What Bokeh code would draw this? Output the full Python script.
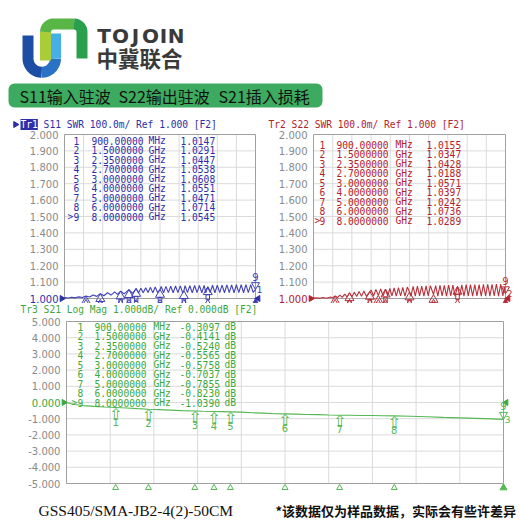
import numpy as np
from bokeh.plotting import figure
from bokeh.models import Range1d, Label, LabelSet, ColumnDataSource, BoxAnnotation
from bokeh.layouts import column, row
from bokeh.embed import file_html
from bokeh.resources import INLINE
from bokeh.core.properties import value

# ---------------- data ----------------
marker_ids = ["1", "2", "3", "4", "5", "6", "7", "8", "9"]
marker_freq_ghz = [0.9, 1.5, 2.35, 2.7, 3.0, 4.0, 5.0, 6.0, 8.0]
s11_marker_swr = [1.0147, 1.0291, 1.0447, 1.0538, 1.0608, 1.0551, 1.0471, 1.0714, 1.0545]
s22_marker_swr = [1.0155, 1.0347, 1.0428, 1.0188, 1.0571, 1.0397, 1.0242, 1.0736, 1.0289]
s21_marker_db = [-0.3097, -0.4141, -0.5240, -0.5565, -0.5758, -0.7037, -0.7855, -0.8230, -1.0390]

swr_ticks = [1.0, 1.1, 1.2, 1.3, 1.4, 1.5, 1.6, 1.7, 1.8, 1.9, 2.0]
db_ticks = [-5, -4, -3, -2, -1, 0, 1, 2, 3, 4, 5]
freq_divisions_ghz = [0.8, 1.6, 2.4, 3.2, 4.0, 4.8, 5.6, 6.4, 7.2]
freq_span_ghz = [0.0, 8.0]

s11_trace_freq = [0.01, 0.15, 0.3, 0.45, 0.6, 0.75, 0.9, 1.05, 1.2, 1.35, 1.5,
                  1.65, 1.8, 1.95, 2.1, 2.22, 2.35, 2.5, 2.7, 2.85,
                  3.0, 3.1, 3.2, 3.3, 3.4, 3.5, 3.6, 3.7, 3.8, 3.9,
                  4.0,
                  4.05, 4.15, 4.25, 4.35, 4.45, 4.55, 4.65, 4.75, 4.85, 4.95,
                  5.0,
                  5.05, 5.15, 5.25, 5.35, 5.45, 5.55, 5.65, 5.75, 5.85,
                  5.92,
                  6.0, 6.1, 6.2, 6.3, 6.4, 6.5, 6.6, 6.7, 6.8, 6.9, 7.0,
                  7.1, 7.2, 7.3, 7.4, 7.5, 7.6, 7.7, 7.8, 7.9, 8.0]
s11_trace_swr = [1.006, 1.003, 1.008, 1.004, 1.010, 1.006, 1.0147, 1.009, 1.021, 1.013, 1.0291,
                 1.017, 1.035, 1.021, 1.040, 1.025, 1.0447, 1.028, 1.0538, 1.031,
                 1.0608, 1.034, 1.063, 1.035, 1.066, 1.036, 1.068, 1.035, 1.070, 1.036,
                 1.0551,
                 1.073, 1.035, 1.074, 1.036, 1.075, 1.035, 1.076, 1.036, 1.077, 1.035,
                 1.0471,
                 1.078, 1.036, 1.078, 1.035, 1.079, 1.036, 1.080, 1.035, 1.080,
                 1.034,
                 1.0714, 1.036, 1.081, 1.035, 1.082, 1.036, 1.082, 1.035, 1.083, 1.036, 1.083,
                 1.035, 1.084, 1.036, 1.084, 1.035, 1.085, 1.036, 1.085, 1.037, 1.0545]

s22_trace_freq = [0.01, 0.25, 0.4, 0.55, 0.7, 0.8, 0.9, 1.0, 1.1, 1.2, 1.3, 1.4, 1.5,
                  1.6, 1.7, 1.8, 1.9, 2.0, 2.1, 2.2, 2.35, 2.4, 2.5, 2.6, 2.7, 2.8, 2.9,
                  3.0, 3.09, 3.18, 3.27, 3.36, 3.45, 3.54, 3.63, 3.72, 3.81, 3.91, 4.0,
                  4.06, 4.15, 4.24, 4.33, 4.42, 4.51, 4.6, 4.69, 4.78, 4.87, 5.0,
                  5.09, 5.18, 5.27, 5.36, 5.45, 5.54, 5.63, 5.72, 5.81, 5.9, 6.0,
                  6.09, 6.18, 6.27, 6.36, 6.45, 6.54, 6.63, 6.72, 6.81, 6.9, 6.99,
                  7.08, 7.17, 7.26, 7.35, 7.44, 7.53, 7.62, 7.71, 7.8, 7.89, 7.95, 8.0]
s22_trace_swr = [1.004, 1.002, 1.006, 1.002, 1.009, 1.004, 1.0155, 1.006, 1.021, 1.007, 1.027, 1.009, 1.0347,
                 1.011, 1.038, 1.012, 1.042, 1.013, 1.046, 1.013, 1.0428, 1.052, 1.015, 1.055, 1.0188, 1.058, 1.015,
                 1.0571, 1.015, 1.061, 1.016, 1.064, 1.015, 1.066, 1.016, 1.068, 1.015, 1.070, 1.0397,
                 1.014, 1.074, 1.015, 1.075, 1.016, 1.076, 1.015, 1.077, 1.016, 1.078, 1.0242,
                 1.079, 1.015, 1.080, 1.016, 1.080, 1.015, 1.081, 1.016, 1.082, 1.015, 1.0736,
                 1.016, 1.083, 1.015, 1.084, 1.016, 1.084, 1.015, 1.085, 1.016, 1.085, 1.015,
                 1.086, 1.016, 1.087, 1.015, 1.087, 1.016, 1.088, 1.015, 1.088, 1.016, 1.070, 1.0289]

s21_trace_freq = [0.01, 0.15, 0.3, 0.5, 0.7, 0.9, 1.1, 1.3, 1.5, 1.7, 1.9, 2.1, 2.35, 2.5, 2.7,
                  2.85, 3.0, 3.2, 3.4, 3.6, 3.8, 4.0, 4.2, 4.4, 4.6, 4.8, 5.0, 5.2, 5.4, 5.6,
                  5.8, 6.0, 6.3, 6.6, 6.9, 7.2, 7.5, 7.8, 8.0]
s21_trace_db = [-0.01, -0.12, -0.19, -0.24, -0.28, -0.3097, -0.34, -0.38, -0.4141, -0.44, -0.47,
                -0.50, -0.5240, -0.54, -0.5565, -0.565, -0.5758, -0.595, -0.635, -0.655, -0.69,
                -0.7037, -0.715, -0.745, -0.75, -0.775, -0.7855, -0.79, -0.805, -0.805, -0.82,
                -0.8230, -0.85, -0.88, -0.92, -0.95, -0.98, -1.01, -1.0390]

banner_items = ["S11输入驻波", "S22输出驻波", "S21插入损耗"]
brand_letters = ["T", "O", "J", "O", "I", "N"]
brand_cn = "中冀联合"
model_text = "GSS405/SMA-JB2-4(2)-50CM"
note_text = "*该数据仅为样品数据，实际会有些许差异"

# ---------------- styles ----------------
MONO = "DejaVu Sans Mono"
SANS = "DejaVu Sans"
GRAY = "#8a8a8a"
BLUE, BLUE_TR = "#2e2ea8", "#4040b8"
RED, RED_TR = "#b2222c", "#b8303a"
GREEN, GREEN_TR = "#3ba83b", "#55b855"
CH = 5.78  # monospace character pitch in px


def freq_text(f):
    if f < 1:
        return f"{f * 1000:.5f}", "MHz"
    return f"{f:.7f}", "GHz"


def make_panel(W, H, box, yspan):
    """Figure whose frame fills the canvas; the grid box sits at pixel rectangle `box`."""
    l, r, t, b = box
    x0, x1 = freq_span_ghz
    y0, y1 = yspan
    sx = (r - l) / (x1 - x0)
    sy = (b - t) / (y1 - y0)
    p = figure(width=W, height=H, title=None,
               x_range=Range1d(x0 - l / sx, x1 + (W - r) / sx),
               y_range=Range1d(y0 - (H - b) / sy, y1 + t / sy),
               x_axis_location=None, y_axis_location=None, toolbar_location=None,
               output_backend="svg", min_border=0)
    p.grid.visible = False
    p.outline_line_color = None
    p.background_fill_color = "white"
    p.border_fill_color = "white"
    return p, sx, sy


def decorate(p, sx, sy, y_lo, y_hi, ticks, ref, color, trace_color, tr_f, tr_v, mk_v,
             title_parts, title_dx, title_dy, tbl_x, tbl_row0, active_dx, unit2,
             trace_no, text_arrows):
    x0, x1 = freq_span_ghz
    # grid + box
    p.segment(x0=freq_divisions_ghz, y0=[y_lo] * len(freq_divisions_ghz),
              x1=freq_divisions_ghz, y1=[y_hi] * len(freq_divisions_ghz),
              line_color="#dadada", line_width=1)
    inner = ticks[1:-1]
    p.segment(x0=[x0] * len(inner), y0=inner, x1=[x1] * len(inner), y1=inner,
              line_color="#dadada", line_width=1)
    p.quad(left=[x0], right=[x1], bottom=[y_lo], top=[y_hi], fill_color=None,
           line_color="#a0a0a0", line_width=1)

    # y tick labels
    gray_ticks = [t for t in ticks if t != ref]
    lab = ColumnDataSource(dict(x=[x0] * len(gray_ticks), y=gray_ticks,
                                txt=[f"{t:.3f}" for t in gray_ticks]))
    p.add_layout(LabelSet(x="x", y="y", text="txt", source=lab, x_offset=-6,
                          text_font=value(SANS), text_font_size="10px", text_color=GRAY,
                          text_align="right", text_baseline="middle"))
    p.add_layout(Label(x=x0, y=ref, x_offset=-6, text=f"{ref:.3f}", text_align="right",
                       text_baseline="middle", text_font=SANS, text_font_size="10px",
                       text_color=color))
    # reference-level pointers (left and right edge)
    p.scatter([x0 - 2.6 / sx], [ref], marker="triangle", angle=-np.pi / 2, size=6,
              fill_color=color, line_color=color)
    p.scatter([x1 + 2.6 / sx], [ref], marker="triangle", angle=np.pi / 2, size=6,
              fill_color=color, line_color=color)
    # title
    dx = title_dx
    for txt, highlight in title_parts:
        kw = dict(background_fill_color=color, text_color="white") if highlight else dict(text_color=color)
        p.add_layout(Label(x=x0, y=y_hi, x_offset=dx, y_offset=title_dy, text=txt,
                           text_align="left", text_baseline="middle", text_font=MONO,
                           text_font_size="9.6px", **kw))
        dx += (len(txt) + 1) * CH
    if title_parts[0][1]:
        p.scatter([x0 + (title_dx - 5) / sx], [y_hi + title_dy / sy], marker="triangle",
                  angle=-np.pi / 2, size=6, fill_color=color, line_color=color)

    # trace
    p.line(tr_f, tr_v, line_color=trace_color, line_width=1.1)

    # marker table
    n = len(marker_ids)
    tbl = ColumnDataSource(dict(
        x=[x0] * n, y=[y_hi] * n, num=marker_ids,
        freq=[freq_text(f)[0] for f in marker_freq_ghz],
        unit=[freq_text(f)[1] for f in marker_freq_ghz],
        val=[f"{v:.4f}" for v in mk_v],
        unit2=[unit2] * n,
        dy=[-(tbl_row0 + 9.5 * i) for i in range(n)]))
    cols = ["num", "freq", "unit", "val", "unit2"] if unit2 else ["num", "freq", "unit", "val"]
    for col, cx in zip(cols, tbl_x):
        p.add_layout(LabelSet(x="x", y="y", text=col, source=tbl, x_offset=cx, y_offset="dy",
                              text_font=value(MONO), text_font_size="9.6px",
                              text_color=color, text_align="left", text_baseline="middle"))
    p.add_layout(Label(x=x0, y=y_hi, x_offset=active_dx, y_offset=-(tbl_row0 + 9.5 * 8), text=">",
                       text_align="left", text_baseline="middle", text_font=MONO,
                       text_font_size="9.6px", text_color=color))

    # markers on trace (1..8)
    mf, mv = marker_freq_ghz[:8], mk_v[:8]
    if text_arrows:
        mk = ColumnDataSource(dict(x=mf, y=mv, id=marker_ids[:8], arrow=["⇧"] * 8))
        p.add_layout(LabelSet(x="x", y="y", text="arrow", source=mk, y_offset=3,
                              text_font=value(SANS), text_font_size="16px", text_color=trace_color,
                              text_align="center", text_baseline="top"))
        p.add_layout(LabelSet(x="x", y="y", text="id", source=mk, y_offset=-10,
                              text_font=value(SANS), text_font_size="10px", text_color=trace_color,
                              text_align="center", text_baseline="top"))
    else:
        p.rect(mf, [v - 10.5 / sy for v in mv], width=3.5, height=5, width_units="screen",
               height_units="screen", fill_color="white", fill_alpha=0.0,
               line_color=trace_color, line_width=1)
        p.scatter(mf, [v - 5.2 / sy for v in mv], marker="triangle", size=9,
                  fill_color="white", fill_alpha=0.0, line_color=trace_color, line_width=1)
    # stimulus pointers under the box
    p.scatter(mf, [y_lo - 4.3 / sy] * 8, marker="triangle", size=6,
              fill_color="white", fill_alpha=0.0, line_color=trace_color, line_width=1)
    # active marker 9
    f9, v9 = marker_freq_ghz[8], mk_v[8]
    p.scatter([f9], [v9 + 4.6 / sy], marker="inverted_triangle", size=8,
              fill_color="white", fill_alpha=0.0, line_color=trace_color, line_width=1)
    p.add_layout(Label(x=f9, y=v9, y_offset=9, text=marker_ids[8], text_align="center",
                       text_baseline="bottom", text_font=SANS, text_font_size="10px",
                       text_color=trace_color))
    p.scatter([f9], [y_lo - 4.3 / sy], marker="triangle", size=7,
              fill_color=trace_color, line_color=trace_color)
    p.add_layout(Label(x=x1, y=tr_v[-1], x_offset=1, text=trace_no, text_align="left",
                       text_baseline="middle", text_font=SANS, text_font_size="9.5px",
                       text_color=trace_color))


# ---------------- header ----------------
hdr = figure(width=520, height=113, title=None, x_range=Range1d(0, 520), y_range=Range1d(113, 0),
             x_axis_location=None, y_axis_location=None, toolbar_location=None,
             output_backend="svg", min_border=0)
hdr.grid.visible = False
hdr.outline_line_color = None


def arc(cx, cy, r, a0, a1, k=16):
    t = np.linspace(a0, a1, k)
    return list(cx + r * np.cos(t)), list(cy + r * np.sin(t))


# logo (decorative shape)
ax1, ay1 = arc(41.25, 58, 13.75, np.pi, np.pi / 2)
ax2, ay2 = arc(41.25, 58, 13.75, np.pi / 2, 0)
gx1, gy1 = arc(53, 31.5, 8, np.pi, 1.5 * np.pi)
gx2, gy2 = arc(73.5, 31.5, 8, 1.5 * np.pi, 2 * np.pi)
logo_xs = [[27.5, 27.5] + ax1, ax2, [55, 55],
           [45, 45], gx1 + gx2[:1], gx2 + [81.5]]
logo_ys = [[35, 58] + ay1, ay2, [58, 33],
           [60, 31.5], gy1 + gy2[:1], gy2 + [58]]
logo_cols = ["#1d4ea5", "#2a72c4", "#45b0e8", "#a8cd36", "#58b646", "#2aa04c"]
hdr.multi_line(logo_xs, logo_ys, line_color=logo_cols, line_width=11,
               line_join="round", line_cap="butt")

for ch, cx in zip(brand_letters, [103.5, 120, 135, 150, 163, 175.5]):
    hdr.add_layout(Label(x=cx, y=35.5, text=ch, text_baseline="middle", text_align="center",
                         text_font=SANS, text_font_style="bold", text_font_size="20px",
                         text_color="#3a3a3a"))
hdr.add_layout(Label(x=96, y=56.5, text=brand_cn, text_baseline="middle", text_align="left",
                     text_font="Noto Sans CJK SC", text_font_style="bold", text_font_size="21.5px",
                     text_color="#3a3a3a"))
hdr.add_layout(BoxAnnotation(left=8, right=322, top=83, bottom=107, fill_color="#3dab5f",
                             fill_alpha=1, line_color=None, border_radius=6))
for txt, bx in zip(banner_items, [19, 118, 218]):
    hdr.add_layout(Label(x=bx, y=95.5, text=txt, text_baseline="middle", text_align="left",
                         text_font="Noto Sans CJK SC", text_font_size="16px",
                         text_color="#111111"))

# ---------------- panels ----------------
p1, sx1, sy1 = make_panel(262, 190, (64, 255, 21, 185), (1.0, 2.0))
decorate(p1, sx1, sy1, 1.0, 2.0, swr_ticks, 1.0, BLUE, BLUE_TR, s11_trace_freq, s11_trace_swr,
         s11_marker_swr, [("Tr1", True), ("S11 SWR 100.0m/ Ref 1.000 [F2]", False)], -44, 10,
         [9, 27, 84, 116], 6, 3, None, "1", False)

p2, sx2, sy2 = make_panel(258, 190, (51, 243, 21, 185), (1.0, 2.0))
decorate(p2, sx2, sy2, 1.0, 2.0, swr_ticks, 1.0, RED, RED_TR, s22_trace_freq, s22_trace_swr,
         s22_marker_swr, [("Tr2 S22 SWR 100.0m/ Ref 1.000 [F2]", False)], -45, 10,
         [6, 23, 82, 113], 10, 1, None, "2", False)

p3, sx3, sy3 = make_panel(520, 217, (66, 503, 18, 180), (-5, 5))
decorate(p3, sx3, sy3, -5, 5, db_ticks, 0, GREEN, GREEN_TR, s21_trace_freq, s21_trace_db,
         s21_marker_db, [("Tr3 S21 Log Mag 1.000dB/ Ref 0.000dB [F2]", False)], -46, 12,
         [11, 28, 87, 113, 158], 5, 5, "dB", "3", True)

p3.add_layout(Label(x=0, y=-5, x_offset=-28, y_offset=-27, text=model_text, text_align="left",
                    text_baseline="middle", text_font="Liberation Serif", text_font_size="15.5px",
                    text_color="#111111"))
p3.add_layout(Label(x=0, y=-5, x_offset=209, y_offset=-27, text=note_text, text_align="left",
                    text_baseline="middle", text_font="Noto Sans CJK SC", text_font_style="bold",
                    text_font_size="13px", text_color="#111111"))

layout = column(hdr, row(p1, p2), p3)
open("out.html", "w").write(file_html(layout, INLINE))
